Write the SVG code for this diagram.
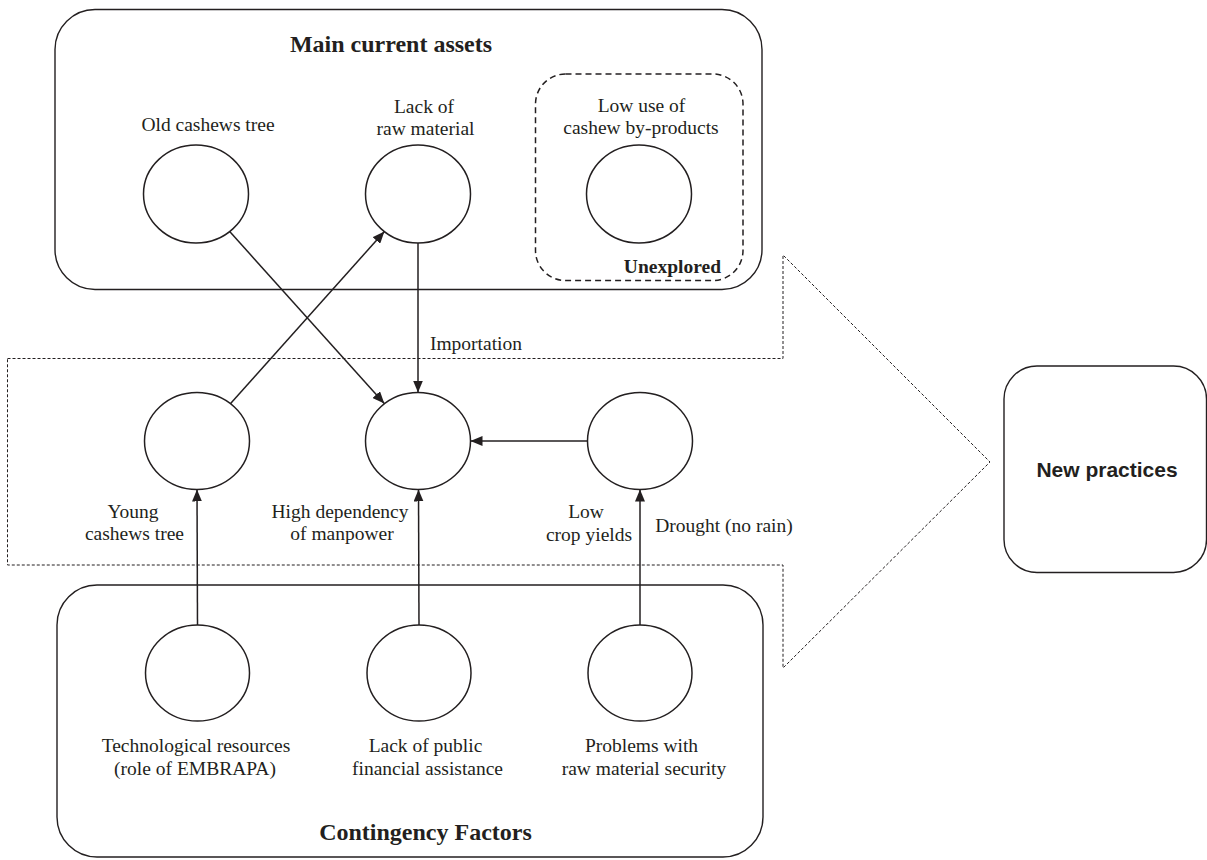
<svg xmlns="http://www.w3.org/2000/svg" width="1207" height="860" viewBox="0 0 1207 860">
<style>
.box{fill:none;stroke:#231f20;stroke-width:1.4}
.node{fill:#fff;stroke:#231f20;stroke-width:1.5}
.lbl{font-family:"Liberation Serif","Times New Roman",serif;font-size:19.5px;fill:#231f20;text-anchor:middle}
.ttl{font-family:"Liberation Serif","Times New Roman",serif;font-size:24px;font-weight:bold;fill:#231f20;text-anchor:middle}
.conn line{stroke:#231f20;stroke-width:1.5;marker-end:url(#ah)}
</style>
<defs>
<marker id="ah" markerUnits="userSpaceOnUse" markerWidth="12" markerHeight="10" refX="12" refY="5" orient="auto">
<path d="M0,0 L12,5 L0,10 z" fill="#231f20"/>
</marker>
</defs>
<rect width="1207" height="860" fill="#fff"/>

<g id="big-arrow">
<path d="M7.5,358.5 H783 V255 L990,462 L783,668 V565 H7.5 Z" fill="none" stroke="#231f20" stroke-width="1" stroke-dasharray="3,2"/>
</g>

<g id="main-current-assets">
<rect class="box" x="55" y="9.5" width="707" height="280" rx="40"/>
<text class="ttl" x="391" y="52">Main current assets</text>
</g>

<g id="unexplored">
<rect x="535.5" y="74" width="207.5" height="206.5" rx="30" fill="none" stroke="#231f20" stroke-width="1.5" stroke-dasharray="6,4"/>
<text x="721" y="272.5" font-family="Liberation Serif, Times New Roman, serif" font-size="19.5" font-weight="bold" fill="#231f20" text-anchor="end">Unexplored</text>
</g>

<g id="contingency-factors">
<rect class="box" x="57" y="585" width="706" height="272" rx="40"/>
<text class="ttl" x="425.5" y="840">Contingency Factors</text>
</g>

<g id="new-practices">
<rect class="box" x="1004" y="366" width="202.5" height="206.5" rx="33"/>
<text x="1107" y="477" font-family="Liberation Sans, Arial, sans-serif" font-size="21" font-weight="bold" fill="#231f20" text-anchor="middle">New practices</text>
</g>

<g id="old-cashews-tree">
<ellipse class="node" cx="196" cy="194" rx="52.5" ry="49"/>
<text class="lbl" x="208" y="131">Old cashews tree</text>
</g>

<g id="lack-of-raw-material">
<ellipse class="node" cx="418" cy="194" rx="52.5" ry="49"/>
<text class="lbl" x="424" y="113">Lack of</text>
<text class="lbl" x="425.5" y="135">raw material</text>
</g>

<g id="low-use-by-products">
<ellipse class="node" cx="639" cy="194" rx="52.5" ry="49"/>
<text class="lbl" x="641.5" y="112">Low use of</text>
<text class="lbl" x="641" y="134">cashew by-products</text>
</g>

<g id="young-cashews-tree">
<ellipse class="node" cx="197" cy="441" rx="52.5" ry="48.5"/>
<text class="lbl" x="133" y="518">Young</text>
<text class="lbl" x="134.5" y="540">cashews tree</text>
</g>

<g id="high-dependency">
<ellipse class="node" cx="418" cy="441" rx="52.5" ry="48.5"/>
<text class="lbl" x="340" y="518">High dependency</text>
<text class="lbl" x="342" y="540">of manpower</text>
</g>

<g id="low-crop-yields">
<ellipse class="node" cx="640" cy="441" rx="52.5" ry="48.5"/>
<text class="lbl" x="586" y="518">Low</text>
<text class="lbl" x="589" y="541">crop yields</text>
</g>

<g id="technological-resources">
<ellipse class="node" cx="197.5" cy="673" rx="52" ry="48"/>
<text class="lbl" x="196" y="752">Technological resources</text>
<text class="lbl" x="195" y="775">(role of EMBRAPA)</text>
</g>

<g id="lack-public-financial">
<ellipse class="node" cx="419" cy="673" rx="52" ry="48"/>
<text class="lbl" x="425.5" y="752">Lack of public</text>
<text class="lbl" x="427.5" y="775">financial assistance</text>
</g>

<g id="problems-raw-material">
<ellipse class="node" cx="640" cy="673" rx="52" ry="48"/>
<text class="lbl" x="641.5" y="752">Problems with</text>
<text class="lbl" x="644" y="775">raw material security</text>
</g>

<g id="connectors" class="conn">
<line x1="229.7" y1="231.5" x2="384.3" y2="403.5"/>
<line x1="230.6" y1="403.5" x2="384.4" y2="231.5"/>
<line x1="418" y1="243" x2="418" y2="392.5"/>
<line x1="587.5" y1="441" x2="470.5" y2="441"/>
<line x1="197.5" y1="625" x2="197" y2="489.5"/>
<line x1="419" y1="625" x2="418.5" y2="489.5"/>
<line x1="640" y1="625" x2="640" y2="489.5"/>
<text class="lbl" x="476" y="350" style="marker:none">Importation</text>
<text class="lbl" x="724" y="531.5">Drought (no rain)</text>
</g>
</svg>
